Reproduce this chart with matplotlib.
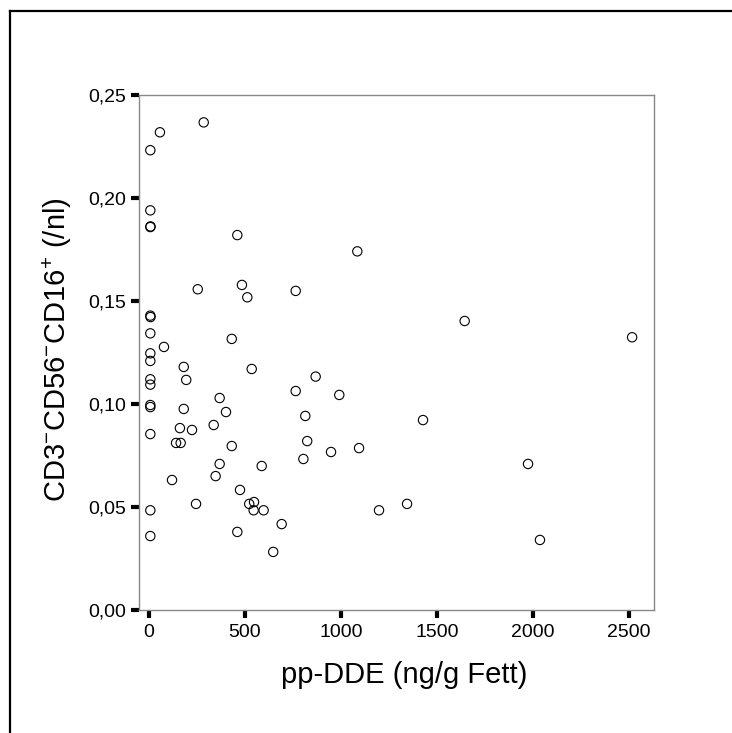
import matplotlib
matplotlib.use("Agg")
import matplotlib.pyplot as plt
from matplotlib.lines import Line2D

plt.rcParams['font.family'] = ['Liberation Sans', 'DejaVu Sans']
plt.rcParams['mathtext.fontset'] = 'custom'
plt.rcParams['mathtext.rm'] = 'Liberation Sans'
plt.rcParams['mathtext.it'] = 'Liberation Sans:italic'

# pp-DDE (ng/g Fett) vs. NK cell count
dde = [285, 57, 7, 7, 7, 8, 460, 254, 484, 512, 764, 7, 8, 7, 431, 78, 7, 7,
       181, 535, 868, 7, 7, 194, 764, 368, 7, 7, 181, 401, 814, 161, 224, 337,
       7, 141, 165, 431, 824, 804, 368, 587, 347, 120, 474, 547, 522, 245, 545,
       597, 7, 691, 460, 7, 647, 991, 1427, 948, 1094, 1974, 1198, 1344, 2036,
       1085, 1644, 2516]
nk = [0.2367, 0.2319, 0.2232, 0.1940, 0.1859, 0.1862, 0.1820, 0.1557, 0.1578,
      0.1518, 0.1549, 0.1429, 0.1422, 0.1343, 0.1316, 0.1277, 0.1246, 0.1209,
      0.1180, 0.1170, 0.1133, 0.1120, 0.1094, 0.1117, 0.1063, 0.1029, 0.0995,
      0.0985, 0.0976, 0.0961, 0.0942, 0.0883, 0.0874, 0.0898, 0.0854, 0.0811,
      0.0811, 0.0796, 0.0820, 0.0733, 0.0709, 0.0699, 0.0650, 0.0631, 0.0583,
      0.0524, 0.0515, 0.0515, 0.0484, 0.0484, 0.0484, 0.0417, 0.0379, 0.0359,
      0.0282, 0.1044, 0.0922, 0.0767, 0.0786, 0.0709, 0.0484, 0.0515, 0.0340,
      0.1741, 0.1403, 0.1324]

x_ticks = [0, 500, 1000, 1500, 2000, 2500]
y_ticks = [0.00, 0.05, 0.10, 0.15, 0.20, 0.25]
y_labels = ["0,00", "0,05", "0,10", "0,15", "0,20", "0,25"]

W, H = 732, 733
fig = plt.figure(figsize=(W / 100, H / 100), dpi=100)
ax = fig.add_axes([139 / W, 1 - 610 / H, (654 - 139) / W, (610 - 95) / H])

ax.scatter(dde, nk, s=45, facecolors='none', edgecolors='black', linewidths=0.8)

ax.set_xlim(-52, 2630)
ax.set_ylim(0, 0.25)
ax.set_xticks(x_ticks)
ax.set_xticklabels([str(t) for t in x_ticks])
ax.set_yticks(y_ticks)
ax.set_yticklabels(y_labels)

for s in ax.spines.values():
    s.set_color('#888888')
    s.set_linewidth(1.0)

ax.tick_params(axis='both', direction='out', length=6, width=3, color='black',
               labelsize=14)
ax.tick_params(axis='x', pad=4)
ax.tick_params(axis='y', pad=3)

fig.text(0.5 * (139 + 654) / W + 0.01, 1 - 675 / H, 'pp-DDE (ng/g Fett)',
         ha='center', va='center', fontsize=21)
fig.text(57 / W, 1 - 350 / H, 'CD3$^{-}$CD56$^{-}$CD16$^{+}$ (/nl)',
         ha='center', va='center', rotation=90, fontsize=21)

# frame lines at top and left
fig.add_artist(Line2D([9.5 / W, 9.5 / W], [0, 1 - 11 / H], color='black', lw=1.6))
fig.add_artist(Line2D([9.5 / W, 1], [1 - 11 / H, 1 - 11 / H], color='black', lw=1.6))

fig.savefig('out.png', dpi=100)
